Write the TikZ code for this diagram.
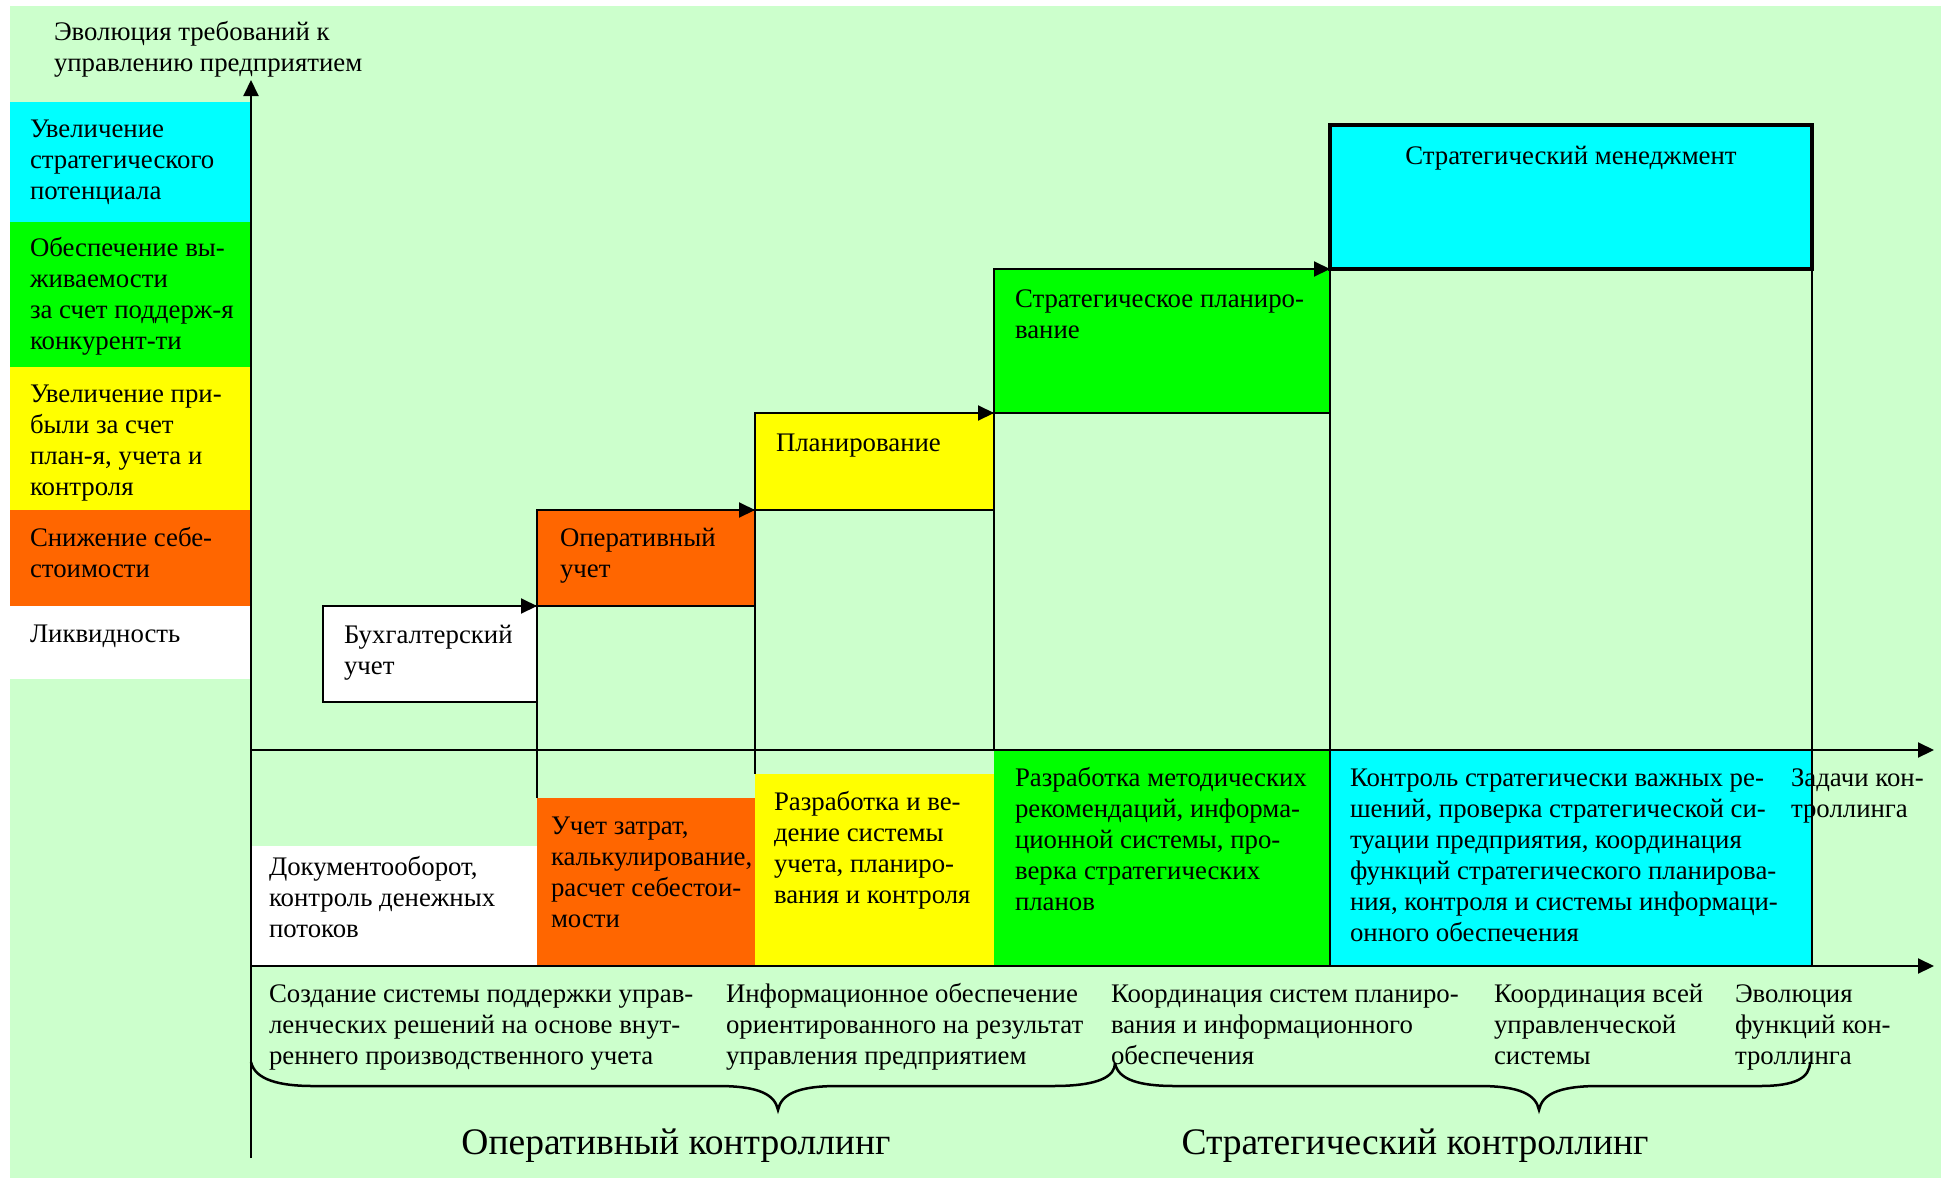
\documentclass[tikz,border=0pt]{standalone}
\usepackage{fontspec}
\setmainfont{Liberation Serif}
\usetikzlibrary{arrows.meta}
\definecolor{bgg}{HTML}{CCFFCC}
\definecolor{cy}{HTML}{00FFFF}
\definecolor{gr}{HTML}{00FF00}
\definecolor{ye}{HTML}{FFFF00}
\definecolor{orng}{HTML}{FF6600}
\newcommand{\fsA}{\fontsize{26.8}{31}\selectfont}
\newcommand{\fsB}{\fontsize{37.5}{44}\selectfont}
\begin{document}
\begin{tikzpicture}[x=1pt,y=-1pt,
 area/.style={rectangle,inner sep=0pt,outer sep=0pt,anchor=north west},
 boxed/.style={area,draw,line width=2pt},
 txt/.style={inner sep=0pt,outer sep=0pt,anchor=north west,align=left,font=\fsA,yshift=-4pt},
 big/.style={inner sep=0pt,outer sep=0pt,anchor=center,font=\fsB},
 ln/.style={line width=2pt},
 arr/.style={line width=2pt,-{Triangle[length=16pt,width=15pt]}},
 brace/.style={line width=2.5pt}]
\useasboundingbox (0,0) rectangle (1946,1178);
\fill[white] (0,0) rectangle (1946,1178);
\fill[bgg] (10,6) rectangle (1941,1178);
% left column
\node[area,fill=cy,minimum width=240pt,minimum height=120pt] (lc1) at (10,102) {};
\node[area,fill=gr,minimum width=240pt,minimum height=145pt] (lc2) at (10,222) {};
\node[area,fill=ye,minimum width=240pt,minimum height=143pt] (lc3) at (10,367) {};
\node[area,fill=orng,minimum width=240pt,minimum height=96pt] (lc4) at (10,510) {};
\node[area,fill=white,minimum width=240pt,minimum height=73pt] (lc5) at (10,606) {};
% lower boxes
\node[area,fill=white,minimum width=286pt,minimum height=120pt] (doc) at (251,846) {};
\node[area,fill=orng,minimum width=218pt,minimum height=168pt] (uchet) at (537,798) {};
\node[area,fill=ye,minimum width=239pt,minimum height=192pt] (razr) at (755,774) {};
\node[area,fill=gr,minimum width=336pt,minimum height=216pt] (metod) at (994,750) {};
\node[area,fill=cy,minimum width=482pt,minimum height=216pt] (kontr) at (1330,750) {};
% upper boxes
\node[boxed,fill=white,minimum width=214pt,minimum height=96pt] (buh) at (323,606) {};
\node[boxed,fill=orng,minimum width=218pt,minimum height=96pt] (oper) at (537,510) {};
\node[boxed,fill=ye,minimum width=239pt,minimum height=97pt] (plan) at (755,413) {};
\node[boxed,fill=gr,minimum width=336pt,minimum height=144pt] (splan) at (994,269) {};
\node[area,fill=cy,draw,line width=4pt,minimum width=482pt,minimum height=144pt] (sman) at (1330,125) {};
% texts
\node[txt] (title) at (54,15) {\strut Эволюция требований к\\управлению предприятием};
\node[txt] (lt1) at (30,112) {\strut Увеличение\\стратегического\\потенциала};
\node[txt] (lt2) at (30,231) {\strut Обеспечение вы-\\живаемости\\за счет поддерж-я\\конкурент-ти};
\node[txt] (lt3) at (30,377) {\strut Увеличение при-\\были за счет\\план-я, учета и\\контроля};
\node[txt] (lt4) at (30,521) {\strut Снижение себе-\\стоимости};
\node[txt] (lt5) at (30,617) {\strut Ликвидность};
\node[txt] (tbuh) at (344,618) {\strut Бухгалтерский\\учет};
\node[txt] (toper) at (560,521) {\strut Оперативный\\учет};
\node[txt] (tplan) at (776,426) {\strut Планирование};
\node[txt] (tsplan) at (1015,282) {\strut Стратегическое планиро-\\вание};
\node[txt,anchor=north,align=center] (tsman) at (1571,139) {\strut Стратегический менеджмент};
\node[txt] (tdoc) at (269,850) {\strut Документооборот,\\контроль денежных\\потоков};
\node[txt] (tuchet) at (551,809) {\strut Учет затрат,\\калькулирование,\\расчет себестои-\\мости};
\node[txt] (trazr) at (774,785) {\strut Разработка и ве-\\дение системы\\учета, планиро-\\вания и контроля};
\node[txt] (tmetod) at (1015,761) {\strut Разработка методических\\рекомендаций, информа-\\ционной системы, про-\\верка стратегических\\планов};
\node[txt] (tkontr) at (1350,761) {\strut Контроль стратегически важных ре-\\шений, проверка стратегической си-\\туации предприятия, координация\\функций стратегического планирова-\\ния, контроля и системы информаци-\\онного обеспечения};
\node[txt] (tzad) at (1791,761) {\strut Задачи кон-\\троллинга};
\node[txt] (b1) at (269,977) {\strut Создание системы поддержки управ-\\ленческих решений на основе внут-\\реннего производственного учета};
\node[txt] (b2) at (726,977) {\strut Информационное обеспечение\\ориентированного на результат\\управления предприятием};
\node[txt] (b3) at (1111,977) {\strut Координация систем планиро-\\вания и информационного\\обеспечения};
\node[txt] (b4) at (1494,977) {\strut Координация всей\\управленческой\\системы};
\node[txt] (b5) at (1735,977) {\strut Эволюция\\функций кон-\\троллинга};
\node[big] (opk) at (676,1146) {Оперативный контроллинг};
\node[big] (stk) at (1415,1146) {Стратегический контроллинг};
% axes
\coordinate (o) at (251,1158);
\coordinate (ytop) at (251,80);
\coordinate (x1s) at (251,750);
\coordinate (x1e) at (1934,750);
\coordinate (x2s) at (251,966);
\coordinate (x2e) at (1934,966);
\draw[arr] (o) -- (ytop);
\draw[arr] (x1s) -- (x1e);
\draw[arr] (x2s) -- (x2e);
% staircase
\draw[arr] (buh.north west) -- (oper.south west);
\draw[arr] (oper.north west) -- (plan.south west);
\draw[arr] (plan.north west) -- (splan.south west);
\draw[arr] (splan.north west) -- (sman.south west);
\draw[ln] (oper.south west) -- (uchet.north west);
\draw[ln] (plan.south west) -- (razr.north west);
\draw[ln] (splan.south west) -- (metod.north west);
\draw[ln] (sman.south west) -- (kontr.south west);
\draw[ln] (sman.south east) -- (kontr.south east);
% braces
\coordinate (bl) at (251,1062);
\coordinate (bm) at (1115,1063);
\coordinate (br) at (1810,1062);
\draw[brace] (bl) .. controls (255,1080) and (280,1086) .. (313,1086) -- (718,1086)
  .. controls (760,1086) and (775,1095) .. (778,1110)
  .. controls (781,1095) and (796,1086) .. (838,1086) -- (1053,1086)
  .. controls (1100,1086) and (1115,1076) .. (bm);
\draw[brace] (bm) .. controls (1118,1080) and (1140,1086) .. (1175,1086) -- (1479,1086)
  .. controls (1521,1086) and (1536,1095) .. (1539,1110)
  .. controls (1542,1095) and (1557,1086) .. (1599,1086) -- (1760,1086)
  .. controls (1795,1086) and (1810,1078) .. (br);
\end{tikzpicture}
\end{document}
